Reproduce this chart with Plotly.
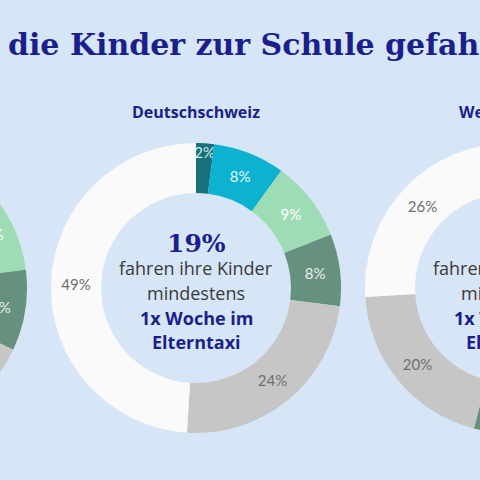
import plotly.graph_objects as go

categories = ["täglich", "3-4x Woche", "1-2x Woche", "seltener", "nie (Auto)", "nie"]
colors = ["#17707a", "#0cb2cf", "#9edcb6", "#66917f", "#c6c6c6", "#fafafa"]
left_vals = [3, 9, 11, 9, 22, 46]
center_vals = [2, 8, 9, 8, 24, 49]
right_vals = [6, 14, 18, 16, 20, 26]
regions = ["Tessin", "Deutschschweiz", "Westschweiz"]
centers_pct = ["23%", "19%", "38%"]

W, H, OFF = 1000, 480, 300
cx = [182, 496, 810]
cy, R = 288, 145

fig = go.Figure()
for vals, x in zip([left_vals, center_vals, right_vals], cx):
    fig.add_trace(go.Pie(
        labels=categories, values=vals, sort=False, direction="clockwise", rotation=0,
        hole=0.655, marker=dict(colors=colors, line=dict(width=0)),
        texttemplate="%{value}%", textposition="inside", insidetextorientation="horizontal",
        textfont=dict(family="Lato", size=15, color=["#d6ecec", "#e6f7fa", "#ffffff", "#e8efec", "#6e6e6e", "#6e6e6e"]),
        domain=dict(x=[(x - R) / W, (x + R) / W], y=[(H - cy - R) / H, (H - cy + R) / H]),
        showlegend=False, hoverinfo="label+value"))

ann = []
def A(x, y, t, size, color, family="Lato", xa="center"):
    ann.append(dict(x=x / W, y=1 - y / H, xref="paper", yref="paper", text=t, showarrow=False,
                    xanchor=xa, yanchor="middle", font=dict(size=size, color=color, family=family)))

navy = "#1b1f8c"
A(OFF + 6, 44, "<b>Werden </b>", 30, navy, "DejaVu Serif", "right")
A(OFF + 6, 44, "<b>die Kinder zur Schule gefahren?</b>", 30, navy, "DejaVu Serif", "left")
for x, r, p in zip(cx, regions, centers_pct):
    A(x, 112, "<b>" + r + "</b>", 16, navy, "Open Sans")
    A(x, 243, "<b>" + p + "</b>", 25, navy, "DejaVu Serif")
    A(x, 268, "fahren ihre Kinder", 18, "#3a3a3a", "Open Sans")
    A(x, 293, "mindestens", 18, "#3a3a3a", "Open Sans")
    A(x, 318, "<b>1x Woche im</b>", 18, navy, "Open Sans")
    A(x, 342, "<b>Elterntaxi</b>", 18, navy, "Open Sans")

fig.update_layout(width=W, height=H, margin=dict(l=0, r=0, t=0, b=0),
                  uniformtext=dict(minsize=15, mode="show"),
                  paper_bgcolor="#d7e6f6", plot_bgcolor="#d7e6f6", annotations=ann)

ps = ("document.body.style.margin='0';document.body.style.overflow='hidden';"
      "document.body.style.background='#d7e6f6';"
      "document.getElementById('{plot_id}').style.marginLeft='-%dpx';" % OFF)
fig.write_html("out.html", post_script=ps, config={"displayModeBar": False})
